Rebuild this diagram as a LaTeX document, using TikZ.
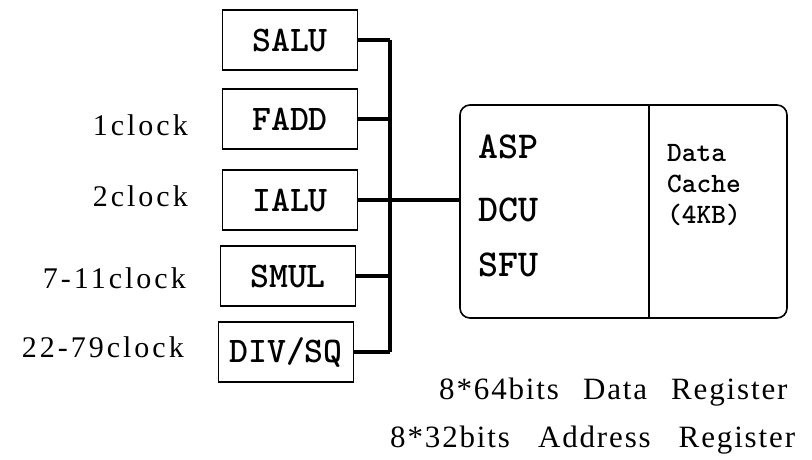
\documentclass[tikz,border=0pt]{standalone}
\usepackage{fontspec}
\setmainfont{Liberation Serif}
\usepackage{tikz}
\usetikzlibrary{positioning, calc}

\begin{document}
\begin{tikzpicture}[
    x=1pt, y=-1pt,
    unit/.style={draw, line width=1.6pt, minimum width=135pt, minimum height=60pt,
                 inner sep=0pt, font=\fontsize{36}{38}\selectfont\ttfamily\bfseries},
    lat/.style={anchor=east, inner sep=0pt,
                font=\fontsize{30}{33}\selectfont\addfontfeatures{LetterSpace=10}},
    core/.style={draw, line width=1.6pt, rounded corners=10pt, minimum width=327pt,
                 minimum height=213pt, inner sep=0pt},
    inner/.style={anchor=west, inner sep=0pt, font=\fontsize{38}{40}\selectfont\ttfamily\bfseries},
    reg/.style={anchor=west, inner sep=0pt,
                font=\fontsize{31}{33}\selectfont\addfontfeatures{LetterSpace=6}},
    bus/.style={line width=3.2pt},
]
  \useasboundingbox (0,0) rectangle (812,459);

  % function units
  \node[unit] (salu) at (290,40)  {SALU};
  \node[unit] (fadd) at (290,119) {FADD};
  \node[unit] (ialu) at (290,200) {IALU};
  \node[unit] (smul) at (288,276) {SMUL};
  \node[unit] (div)  at (286,352) {DIV/SQ};

  % latencies
  \node[lat] (l1) at (188,125) {1clock};
  \node[lat] (l2) at (188,196) {2clock};
  \node[lat] (l3) at (186,278) {7-11clock};
  \node[lat] (l4) at (184,347) {22-79clock};

  % bus
  \coordinate (bus) at (390,0);
  \draw[bus] (salu.east) -- (salu.east -| bus);
  \draw[bus] (fadd.east) -- (fadd.east -| bus);
  \draw[bus] (smul.east) -- (smul.east -| bus);
  \draw[bus] (div.east)  -- (div.east -| bus);
  \draw[bus] (salu.east -| bus) -- (div.east -| bus);

  % load/store unit
  \node[core] (lsu) at (623.5,211.5) {};
  \draw[line width=1.6pt] ([xshift=190pt]lsu.north west) -- ([xshift=190pt]lsu.south west);
  \draw[bus] (ialu.east) -- (ialu.east -| lsu.west);

  \node[inner] (asp) at (478,147) {ASP};
  \node[inner] (dcu) at (478,210) {DCU};
  \node[inner] (sfu) at (478,265) {SFU};
  \node[anchor=north west, align=left, inner sep=0pt,
        font=\fontsize{28}{31}\selectfont\ttfamily\bfseries] (cache) at (667,144) {Data\\Cache\\(4KB)};

  % registers
  \node[reg] (dreg) at (439,392) {8*64bits\hspace{24pt}Data\hspace{24pt}Register};
  \node[reg] (areg) at (390,440) {8*32bits\hspace{28pt}Address\hspace{28pt}Register};
\end{tikzpicture}
\end{document}
